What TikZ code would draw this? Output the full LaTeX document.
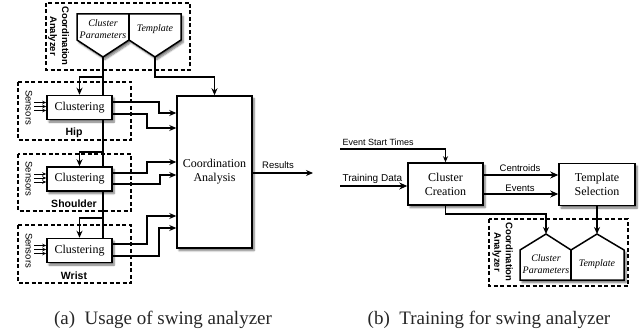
\documentclass[tikz,border=0pt]{standalone}
\usepackage{fontspec}
\setmainfont{Liberation Serif}
\setsansfont{Liberation Sans}
\usetikzlibrary{arrows.meta,shadows.blur,calc}
\begin{document}
\begin{tikzpicture}[x=1pt,y=-1pt,
  shad/.style={blur shadow={shadow xshift=2pt,shadow yshift=-2.5pt,shadow blur steps=6,shadow opacity=55}},
  box/.style={draw,line width=1.5pt,fill=white,shad,inner sep=0pt,align=center,
    font=\fontsize{12}{14}\selectfont},
  grp/.style={draw,line width=1.1pt,dash pattern=on 4pt off 2.5pt},
  conn/.style={line width=1.7pt,-{Stealth[length=7pt,width=6pt]}},
  plain/.style={line width=1.7pt},
  thickconn/.style={line width=2.2pt,-{Stealth[length=8pt,width=7pt]}},
  sens/.style={line width=0.9pt,-{Stealth[length=4pt,width=3.5pt]}},
  lbl/.style={font=\sffamily\fontsize{9.5}{11}\selectfont},
  grplbl/.style={font=\sffamily\bfseries\fontsize{10.5}{12}\selectfont},
  rotlbl/.style={rotate=-90,align=center,font=\sffamily\bfseries\fontsize{9.5}{12}\selectfont},
  pent/.style={draw,line width=1.5pt,fill=white,shad,line join=miter},
  penttext/.style={align=center,font=\itshape\fontsize{10}{12}\selectfont},
  captxt/.style={anchor=base,font=\fontsize{19}{22}\selectfont,text=black!85}
]
\useasboundingbox (0,0) rectangle (644,334);

% ---------- (a) Usage ----------
\draw[grp] (46,3) rectangle (190,70);
\draw[grp] (18,82) rectangle (131,140);
\draw[grp] (18,154) rectangle (131,211);
\draw[grp] (18,225) rectangle (131,283);

\node[rotlbl] (anA) at (58.5,36) {Coordination\\Analyzer};

\path[pent] (77,14) -- (181,14) -- (181,40) -- (155,57) -- (129,40) -- (103,57) -- (77,40) -- cycle;
\draw[line width=1.2pt] (129,14) -- (129,40);
\coordinate (cpv) at (103,57);
\coordinate (tpv) at (155,57);
\node[penttext] (cpA) at (103,29) {Cluster\\Parameters};
\node[penttext] (tpA) at (155,29) {Template};

\node[box,minimum width=65pt,minimum height=24pt] (hip) at (79.5,107.5) {Clustering};
\node[box,minimum width=65pt,minimum height=24pt] (sh) at (79.5,179) {Clustering};
\node[box,minimum width=65pt,minimum height=24pt] (wr) at (79.5,250.5) {Clustering};

\node[box,minimum width=75pt,minimum height=152pt] (ca) at (214.5,172) {Coordination\\Analysis};

\node[grplbl] (hipl) at (74,133) {Hip};
\node[grplbl] (shl) at (74,204) {Shoulder};
\node[grplbl] (wrl) at (74,276) {Wrist};

\node[lbl,rotate=-90] (s1) at (29,107.5) {Sensors};
\node[lbl,rotate=-90] (s2) at (29,179) {Sensors};
\node[lbl,rotate=-90] (s3) at (29,250.5) {Sensors};

\foreach \b in {hip,sh,wr}{
  \foreach \d in {-5,-1,3}{
    \draw[sens] ($(\b.west)+(-12,\d)$) -- ($(\b.west)+(0,\d)$);
  }
}

% trunk from the Cluster Parameters vertex, passing behind the boxes
\draw[plain] (cpv) -- (cpv |- hip.north);
\draw[plain] (cpv |- hip.south) -- (cpv |- sh.north);
\draw[plain] (cpv |- sh.south) -- (cpv |- wr.north);
\draw[conn] (cpv |- 0,77) -| (hip.north);
\draw[conn] (cpv |- 0,152) -| (sh.north);
\draw[conn] (cpv |- 0,218) -| (wr.north);
\draw[conn] (tpv) -- (tpv |- 0,77) -| (ca.north);

\draw[conn] (hip.east |- 0,102) -- (159,102) |- (ca.west |- 0,113);
\draw[conn] (hip.east |- 0,114) -- (147,114) |- (ca.west |- 0,128);
\draw[conn] (sh.east |- 0,173) -- (147,173) |- (ca.west |- 0,162);
\draw[conn] (sh.east |- 0,184) -- (160,184) |- (ca.west |- 0,175);
\draw[conn] (wr.east |- 0,244) -- (147,244) |- (ca.west |- 0,216);
\draw[conn] (wr.east |- 0,256) -- (159,256) |- (ca.west |- 0,228);

\coordinate (res) at (313,173);
\draw[conn] (ca.east |- res) -- (res);
\node[lbl] (resl) at (278,165) {Results};

% ---------- (b) Training ----------
\node[box,minimum width=75pt,minimum height=42pt] (cc) at (445.5,184) {Cluster\\Creation};
\node[box,minimum width=76pt,minimum height=42pt] (ts) at (597,184.5) {Template\\Selection};

\coordinate (est) at (340,149);
\node[lbl,anchor=base west,font=\sffamily\fontsize{9}{11}\selectfont] (estl) at (339,145) {Event Start Times};
\draw[line width=1.4pt,-{Stealth[length=6pt,width=5pt]}] (est) -| (cc.north);

\coordinate (td) at (340,186);
\node[lbl,anchor=base west,font=\sffamily\fontsize{10}{11}\selectfont] (tdl) at (339,181) {Training Data};
\draw[line width=2.6pt,-{Stealth[length=8pt,width=7pt]}] (td) -- (cc.west |- td);

\draw[thickconn] (cc.east |- 0,175) -- (ts.west |- 0,175);
\draw[thickconn] (cc.east |- 0,194) -- (ts.west |- 0,194);
\node[lbl] (cenl) at (520,168) {Centroids};
\node[lbl] (evl) at (520,188) {Events};

\draw[grp] (489,219) rectangle (628,286);
\node[rotlbl,font=\sffamily\bfseries\fontsize{9.5}{11.5}\selectfont] (anB) at (502.5,252) {Coordination\\Analyzer};

\path[pent] (520,250) -- (546,234) -- (571,250) -- (597,234) -- (624,250) -- (624,280) -- (520,280) -- cycle;
\draw[line width=1.2pt] (571,250) -- (571,280);
\coordinate (lpv) at (546,234);
\coordinate (rpv) at (597,234);
\node[penttext] (cpB) at (546,264) {Cluster\\Parameters};
\node[penttext] (tpB) at (597,264) {Template};

\draw[conn] (cc.south) -- (cc.south |- 0,214) -| (lpv);
\draw[conn] (ts.south) -- (rpv);

\node[captxt] (capa) at (163,324) {(a)\ \ Usage of swing analyzer};
\node[captxt] (capb) at (489,324) {(b)\ \ Training for swing analyzer};
\end{tikzpicture}
\end{document}
